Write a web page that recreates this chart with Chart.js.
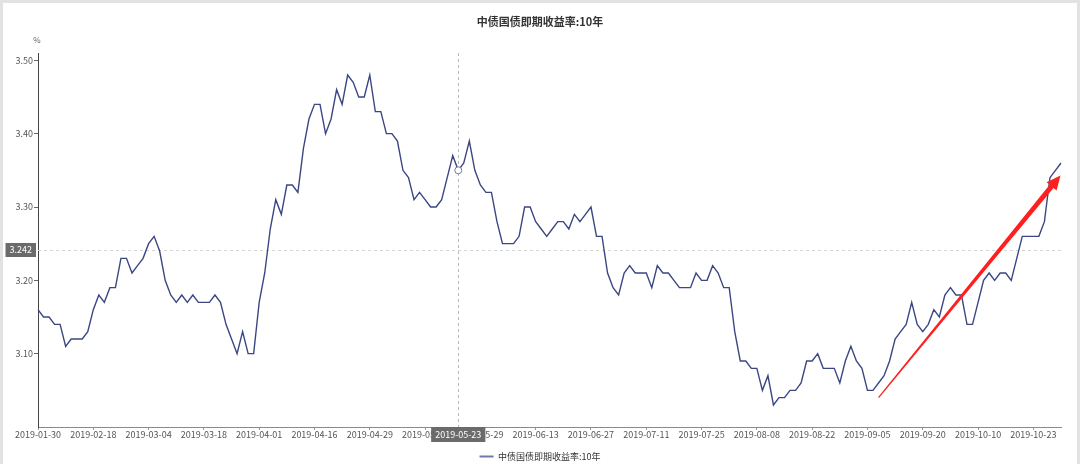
<!DOCTYPE html>
<html>
<head>
<meta charset="utf-8">
<script src="https://cdn.jsdelivr.net/npm/chart.js@4/dist/chart.umd.min.js"></script>
<style>
  html, body { margin: 0; padding: 0; background: #fff; }
  #wrap { position: relative; width: 1080px; height: 464px; }
  #frame { position: absolute; left: 0; top: 0; width: 1074px; height: 461px;
           border-top: 3px solid #e2e2e2; border-left: 3px solid #e2e2e2; border-right: 3px solid #e2e2e2;
           pointer-events: none; }
</style>
</head>
<body>
<div id="wrap">
  <canvas id="myChart" width="1080" height="464"></canvas>
  <div id="frame"></div>
</div>
<script>
// trading days, 2019-01-30 .. 2019-10-30
const dates = [
  "2019-01-30","2019-01-31","2019-02-01","2019-02-02","2019-02-03","2019-02-11","2019-02-12","2019-02-13","2019-02-14","2019-02-15",
  "2019-02-18","2019-02-19","2019-02-20","2019-02-21","2019-02-22","2019-02-25","2019-02-26","2019-02-27","2019-02-28","2019-03-01",
  "2019-03-04","2019-03-05","2019-03-06","2019-03-07","2019-03-08","2019-03-11","2019-03-12","2019-03-13","2019-03-14","2019-03-15",
  "2019-03-18","2019-03-19","2019-03-20","2019-03-21","2019-03-22","2019-03-25","2019-03-26","2019-03-27","2019-03-28","2019-03-29",
  "2019-04-01","2019-04-02","2019-04-03","2019-04-04","2019-04-08","2019-04-09","2019-04-10","2019-04-11","2019-04-12","2019-04-15",
  "2019-04-16","2019-04-17","2019-04-18","2019-04-19","2019-04-22","2019-04-23","2019-04-24","2019-04-25","2019-04-26","2019-04-28",
  "2019-04-29","2019-04-30","2019-05-05","2019-05-06","2019-05-07","2019-05-08","2019-05-09","2019-05-10","2019-05-13","2019-05-14",
  "2019-05-15","2019-05-16","2019-05-17","2019-05-20","2019-05-21","2019-05-22","2019-05-23","2019-05-24","2019-05-27","2019-05-28",
  "2019-05-29","2019-05-30","2019-05-31","2019-06-03","2019-06-04","2019-06-05","2019-06-06","2019-06-10","2019-06-11","2019-06-12",
  "2019-06-13","2019-06-14","2019-06-17","2019-06-18","2019-06-19","2019-06-20","2019-06-21","2019-06-24","2019-06-25","2019-06-26",
  "2019-06-27","2019-06-28","2019-07-01","2019-07-02","2019-07-03","2019-07-04","2019-07-05","2019-07-08","2019-07-09","2019-07-10",
  "2019-07-11","2019-07-12","2019-07-15","2019-07-16","2019-07-17","2019-07-18","2019-07-19","2019-07-22","2019-07-23","2019-07-24",
  "2019-07-25","2019-07-26","2019-07-29","2019-07-30","2019-07-31","2019-08-01","2019-08-02","2019-08-05","2019-08-06","2019-08-07",
  "2019-08-08","2019-08-09","2019-08-12","2019-08-13","2019-08-14","2019-08-15","2019-08-16","2019-08-19","2019-08-20","2019-08-21",
  "2019-08-22","2019-08-23","2019-08-26","2019-08-27","2019-08-28","2019-08-29","2019-08-30","2019-09-02","2019-09-03","2019-09-04",
  "2019-09-05","2019-09-06","2019-09-09","2019-09-10","2019-09-11","2019-09-12","2019-09-16","2019-09-17","2019-09-18","2019-09-19",
  "2019-09-20","2019-09-23","2019-09-24","2019-09-25","2019-09-26","2019-09-27","2019-09-29","2019-09-30","2019-10-08","2019-10-09",
  "2019-10-10","2019-10-11","2019-10-12","2019-10-14","2019-10-15","2019-10-16","2019-10-17","2019-10-18","2019-10-21","2019-10-22",
  "2019-10-23","2019-10-24","2019-10-25","2019-10-28","2019-10-29","2019-10-30"
];

// 中债国债即期收益率:10年 (%)
const yields = [
  3.16,3.15,3.15,3.14,3.14,3.11,3.12,3.12,3.12,3.13,
  3.16,3.18,3.17,3.19,3.19,3.23,3.23,3.21,3.22,3.23,
  3.25,3.26,3.24,3.20,3.18,3.17,3.18,3.17,3.18,3.17,
  3.17,3.17,3.18,3.17,3.14,3.12,3.10,3.13,3.10,3.10,
  3.17,3.21,3.27,3.31,3.29,3.33,3.33,3.32,3.38,3.42,
  3.44,3.44,3.40,3.42,3.46,3.44,3.48,3.47,3.45,3.45,
  3.48,3.43,3.43,3.40,3.40,3.39,3.35,3.34,3.31,3.32,
  3.31,3.30,3.30,3.31,3.34,3.37,3.35,3.36,3.39,3.35,
  3.33,3.32,3.32,3.28,3.25,3.25,3.25,3.26,3.30,3.30,
  3.28,3.27,3.26,3.27,3.28,3.28,3.27,3.29,3.28,3.29,
  3.30,3.26,3.26,3.21,3.19,3.18,3.21,3.22,3.21,3.21,
  3.21,3.19,3.22,3.21,3.21,3.20,3.19,3.19,3.19,3.21,
  3.20,3.20,3.22,3.21,3.19,3.19,3.13,3.09,3.09,3.08,
  3.08,3.05,3.07,3.03,3.04,3.04,3.05,3.05,3.06,3.09,
  3.09,3.10,3.08,3.08,3.08,3.06,3.09,3.11,3.09,3.08,
  3.05,3.05,3.06,3.07,3.09,3.12,3.13,3.14,3.17,3.14,
  3.13,3.14,3.16,3.15,3.18,3.19,3.18,3.18,3.14,3.14,
  3.17,3.20,3.21,3.20,3.21,3.21,3.20,3.23,3.26,3.26,
  3.26,3.26,3.28,3.34,3.35,3.36
];

const yTicks = [3.10, 3.20, 3.30, 3.40, 3.50];
const yMin = 3.00;
const yMax = 3.51;
const labelEvery = 10;

// axis pointer shown in the picture
const hoverDate = "2019-05-23";
const hoverValue = 3.242;

// red arrow drawn on top, in data units [index, value]
const arrowFrom = [152, 3.040];
const arrowTo = [184.9, 3.343];

const seriesName = "中债国债即期收益率:10年";
const lineColor = "#3b4683";
const fontFamily = "'Noto Sans CJK SC', 'Noto Sans', sans-serif";

const hoverIdx = dates.indexOf(hoverDate);

Chart.defaults.font.family = fontFamily;

const overlay = {
  id: "overlay",
  beforeDatasetsDraw(chart) {
    const ctx = chart.ctx;
    const a = chart.chartArea;
    const x = chart.scales.x.getPixelForValue(hoverIdx);
    const y = chart.scales.y.getPixelForValue(hoverValue);
    ctx.save();
    ctx.lineWidth = 1;
    ctx.setLineDash([3, 3]);
    ctx.strokeStyle = "#d4d4d4";
    ctx.beginPath();
    ctx.moveTo(a.left, Math.round(y) + 0.5);
    ctx.lineTo(a.right, Math.round(y) + 0.5);
    ctx.stroke();
    ctx.strokeStyle = "#b8b8b8";
    ctx.beginPath();
    ctx.moveTo(Math.round(x) + 0.5, a.top);
    ctx.lineTo(Math.round(x) + 0.5, a.bottom);
    ctx.stroke();
    ctx.restore();
  },
  afterDraw(chart) {
    const ctx = chart.ctx;
    const a = chart.chartArea;
    const xs = chart.scales.x;
    const ys = chart.scales.y;
    const x = xs.getPixelForValue(hoverIdx);
    const y = ys.getPixelForValue(hoverValue);
    ctx.save();

    // unit
    ctx.fillStyle = "#666";
    ctx.font = "8px " + fontFamily;
    ctx.textAlign = "center";
    ctx.textBaseline = "middle";
    ctx.fillText("%", a.left - 1, a.top - 13);

    // arrow
    const x0 = xs.getPixelForValue(arrowFrom[0]);
    const y0 = ys.getPixelForValue(arrowFrom[1]);
    const x1 = xs.getPixelForValue(arrowTo[0]);
    const y1 = ys.getPixelForValue(arrowTo[1]);
    const len = Math.hypot(x1 - x0, y1 - y0);
    const ux = (x1 - x0) / len, uy = (y1 - y0) / len;
    const nx = -uy, ny = ux;
    const headLen = 14, headW = 6.5, w0 = 0.6, w1 = 2.5;
    const bx = x1 - ux * headLen, by = y1 - uy * headLen;
    ctx.fillStyle = "#ff1f1f";
    ctx.beginPath();
    ctx.moveTo(x0 + nx * w0, y0 + ny * w0);
    ctx.lineTo(bx + nx * w1, by + ny * w1);
    ctx.lineTo(bx + nx * headW, by + ny * headW);
    ctx.lineTo(x1, y1);
    ctx.lineTo(bx - nx * headW, by - ny * headW);
    ctx.lineTo(bx - nx * w1, by - ny * w1);
    ctx.lineTo(x0 - nx * w0, y0 - ny * w0);
    ctx.closePath();
    ctx.fill();

    // pointer labels
    ctx.font = "9px " + fontFamily;
    ctx.textBaseline = "middle";
    ctx.textAlign = "center";
    const vText = hoverValue.toFixed(3);
    const vw = ctx.measureText(vText).width + 8;
    ctx.fillStyle = "#6b6b6b";
    ctx.fillRect(a.left - 2 - vw, Math.round(y) - 7, vw, 14);
    ctx.fillStyle = "#fff";
    ctx.fillText(vText, a.left - 2 - vw / 2, Math.round(y));

    const dw = ctx.measureText(hoverDate).width + 8;
    ctx.fillStyle = "#6b6b6b";
    ctx.fillRect(x - dw / 2, a.bottom, dw, 15);
    ctx.fillStyle = "#fff";
    ctx.fillText(hoverDate, x, a.bottom + 7.5);
    ctx.restore();
  }
};

const data = {
  labels: dates,
  datasets: [
    {
      label: seriesName,
      data: yields,
      borderColor: lineColor,
      backgroundColor: lineColor,
      borderWidth: 1.4,
      tension: 0,
      pointRadius: (c) => (c.dataIndex === hoverIdx ? 3.5 : 0),
      pointBackgroundColor: "#fff",
      pointBorderColor: "#6f7aa8",
      pointBorderWidth: 1,
      pointHoverRadius: 0,
    },
  ],
};

const config = {
  type: "line",
  data: data,
  plugins: [overlay],
  options: {
    animation: false,
    responsive: false,
    events: [],
    layout: { padding: { left: 0, right: 0, top: 0, bottom: -7 } },
    plugins: {
      title: {
        display: true,
        text: seriesName,
        color: "#333",
        font: { size: 11, weight: "bold" },
        padding: { top: 15, bottom: 24.8 },
      },
      legend: {
        position: "bottom",
        labels: {
          usePointStyle: true,
          pointStyle: "line",
          pointStyleWidth: 14,
          color: "#333",
          font: { size: 9 },
          padding: 2,
          generateLabels: (chart) =>
            Chart.defaults.plugins.legend.labels.generateLabels(chart).map((l) => ({ ...l, lineWidth: 2 })),
        },
      },
      tooltip: { enabled: false },
    },
    scales: {
      x: {
        type: "category",
        offset: false,
        afterBuildTicks: (axis) => {
          axis.ticks = dates.map((d, i) => ({ value: i })).filter((t) => t.value % labelEvery === 0);
        },
        afterFit: (axis) => {
          axis.height = 23;
          axis.paddingRight = 19;
        },
        grid: { display: true, drawOnChartArea: false, drawTicks: true, tickLength: 3, color: "#999" },
        border: { display: true, color: "#8a8a8a", width: 1 },
        ticks: { autoSkip: false, maxRotation: 0, color: "#555", font: { size: 9 }, padding: -1 },
      },
      y: {
        min: yMin,
        max: yMax,
        afterBuildTicks: (axis) => {
          axis.ticks = yTicks.map((v) => ({ value: v }));
        },
        afterFit: (axis) => {
          axis.width = 38;
        },
        grid: { display: true, drawOnChartArea: false, drawTicks: true, tickLength: 4, color: "#666" },
        border: { display: true, color: "#444", width: 1 },
        ticks: { color: "#555", font: { size: 9 }, padding: 1, callback: (v) => Number(v).toFixed(2) },
      },
    },
  },
};

const myChart = new Chart(document.getElementById("myChart"), config);
</script>
</body>
</html>
